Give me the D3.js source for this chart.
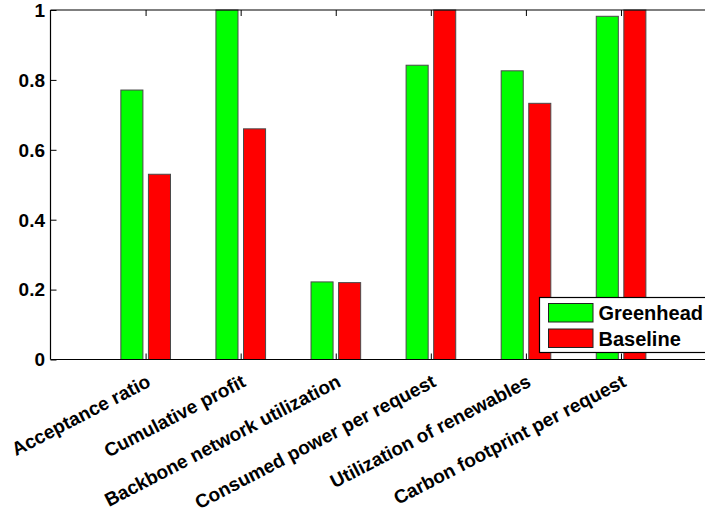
<!doctype html>
<html>
  <head>
    <meta charset="UTF-8">
    <script src="https://d3js.org/d3.v7.min.js"></script>
    <style>
      body { margin: 0; background: #fff; }
      text { font-family: 'Liberation Sans', Arial, sans-serif; font-weight: bold; }
    </style>
  </head>
  <body>
  <script type="text/javascript">

    var categories = ["Acceptance ratio", "Cumulative profit", "Backbone network utilization",
      "Consumed power per request", "Utilization of renewables", "Carbon footprint per request"]
    var greenhead = [0.771, 1.0, 0.222, 0.842, 0.826, 0.982]
    var baseline = [0.530, 0.660, 0.220, 1.0, 0.733, 1.0]
    var seriesNames = ["Greenhead", "Baseline"]
    var yTicks = [0, 0.2, 0.4, 0.6, 0.8, 1]

    var width = 705, height = 518
    var padL = 50.5, padT = 10, padB = 359.5
    var fs = 19

    var svg = d3.select('body').append('svg')
      .attr('width', width)
      .attr('height', height)

    // MATLAB style: x runs 0..7, bars sit at 1..6
    var x = d3.scaleLinear().domain([0, 7]).range([padL, padL + 7 * 95.08])
    var y = d3.scaleLinear().domain([0, 1]).range([padB, padT])

    var series = [
      { name: seriesNames[0], values: greenhead, color: '#00ff00', off: -0.144 },
      { name: seriesNames[1], values: baseline, color: '#ff0000', off: 0.146 }
    ]
    var bw = 0.232

    series.forEach(s => {
      svg.append('g').selectAll('rect')
        .data(s.values)
        .enter()
        .append('rect')
        .attr('x', (d, i) => x(i + 1 + s.off - bw / 2))
        .attr('width', x(bw) - x(0))
        .attr('y', d => y(d))
        .attr('height', d => y(0) - y(d))
        .attr('fill', s.color)
        .attr('stroke', '#4a4a4a')
        .attr('stroke-width', 1)
    })

    // box
    var ax = svg.append('g').attr('stroke', '#000').attr('stroke-width', 1.2)
    ax.append('line').attr('x1', padL).attr('x2', width + 20).attr('y1', padT).attr('y2', padT)
    ax.append('line').attr('x1', padL).attr('x2', width + 20).attr('y1', padB).attr('y2', padB)
    ax.append('line').attr('x1', padL).attr('x2', padL).attr('y1', padT).attr('y2', padB)

    // inward ticks
    var yAxis = d3.axisRight(y).tickValues(yTicks).tickSize(6).tickFormat('')
    svg.append('g').attr('transform', 'translate(' + padL + ',0)').call(yAxis)
      .call(g => g.select('.domain').remove())

    var xTickVals = d3.range(1, categories.length + 1)
    svg.append('g').attr('transform', 'translate(0,' + padB + ')')
      .call(d3.axisTop(x).tickValues(xTickVals).tickSize(6).tickFormat(''))
      .call(g => g.select('.domain').remove())
    svg.append('g').attr('transform', 'translate(0,' + padT + ')')
      .call(d3.axisBottom(x).tickValues(xTickVals).tickSize(6).tickFormat(''))
      .call(g => g.select('.domain').remove())

    // y labels
    svg.selectAll('.ylab')
      .data(yTicks)
      .enter()
      .append('text')
      .text(d => d3.format('~g')(d))
      .attr('x', 45)
      .attr('y', d => y(d))
      .attr('dy', '0.36em')
      .attr('text-anchor', 'end')
      .style('font-size', fs + 'px')

    // rotated category labels
    svg.selectAll('.xlab')
      .data(categories)
      .enter()
      .append('text')
      .text(d => d)
      .attr('text-anchor', 'end')
      .attr('dy', '0.72em')
      .style('font-size', fs + 'px')
      .attr('transform', (d, i) => 'translate(' + x(i + 1) + ',' + (padB + 14) + ')rotate(-27.5)')

    // legend
    var lg = svg.append('g')
    lg.append('rect')
      .attr('x', 539.5).attr('y', 297.5)
      .attr('width', 200).attr('height', 55)
      .attr('fill', '#fff').attr('stroke', '#000').attr('stroke-width', 1.2)

    series.forEach((s, i) => {
      lg.append('rect')
        .attr('x', 548.5).attr('y', 303.5 + i * 25.5)
        .attr('width', 44.5).attr('height', 18.5)
        .attr('fill', s.color).attr('stroke', '#222').attr('stroke-width', 1)
      lg.append('text')
        .text(s.name)
        .attr('x', 598.5)
        .attr('y', 312.8 + i * 25.5)
        .attr('dy', '0.36em')
        .style('font-size', '20px')
    })

  </script>
  </body>
</html>
